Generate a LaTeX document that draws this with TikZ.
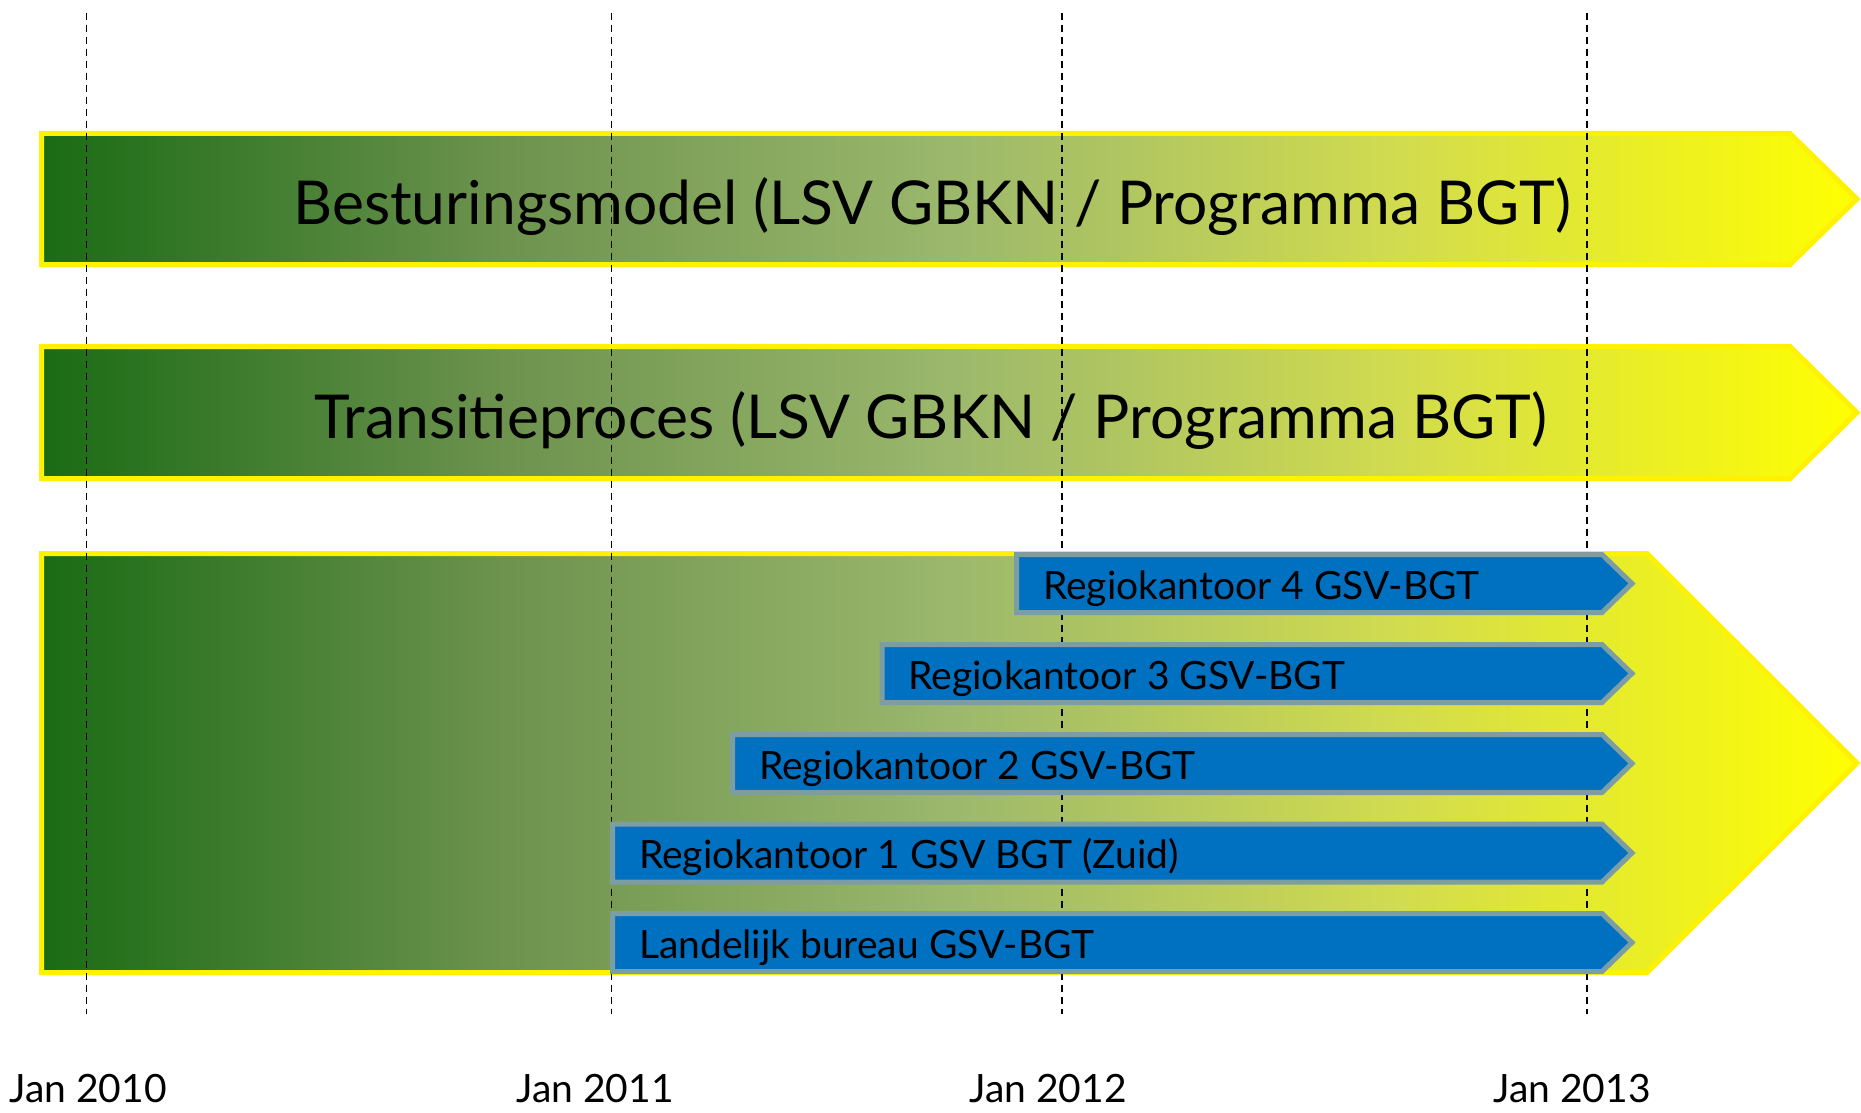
\documentclass[tikz,border=0pt]{standalone}
\usepackage{fontspec}
\setmainfont{Lato}
\usetikzlibrary{positioning}

\definecolor{darkgreen}{RGB}{26,107,20}
\definecolor{mossgreen}{RGB}{108,146,78}
\definecolor{olivegreen}{RGB}{155,184,108}
\definecolor{limegreen}{RGB}{210,220,78}
\definecolor{barblue}{RGB}{0,112,192}
\definecolor{bargrey}{RGB}{125,157,165}

% green to yellow fill of the phases (25bp..75bp is the path)
\pgfdeclarehorizontalshading{greenyellow}{100bp}{color(0bp)=(darkgreen); color(25bp)=(darkgreen);
    color(37.5bp)=(mossgreen); color(50bp)=(olivegreen); color(62.5bp)=(limegreen);
    color(75bp)=(yellow); color(100bp)=(yellow)}

\begin{document}
\begin{tikzpicture}[x=1pt, y=-1pt,
    phase/.style={draw=yellow, line width=5pt, shading=greenyellow},
    task/.style={draw=bargrey, line width=5pt, fill=barblue},
    gridline/.style={line width=1.5pt, dash pattern=on 7pt off 5pt},
    phaselabel/.style={font=\fontsize{60.5}{72}\selectfont, anchor=base},
    tasklabel/.style={font=\fontsize{39}{47}\selectfont, anchor=base west},
    datelabel/.style={font=\fontsize{39}{47}\selectfont, anchor=base}]

    \useasboundingbox (0,0) rectangle (1861,1113);

    % Phases
    \draw[phase] (41.5,133.5) -- (1790,133.5) -- (1857,199) -- (1790,264.5) -- (41.5,264.5) -- cycle;
    \draw[phase] (41.5,346.5) -- (1790,346.5) -- (1857,412.5) -- (1790,478.5) -- (41.5,478.5) -- cycle;
    \draw[phase] (41.5,553.5) -- (1647,553.5) -- (1857,763) -- (1647,972.5) -- (41.5,972.5) -- cycle;

    % Years
    \foreach \x/\lx/\yr in {86.5/88/2010, 611.5/595/2011, 1062/1048/2012, 1587/1572/2013} {
        \coordinate (top\yr) at (\x,12.7);
        \coordinate (bot\yr) at (\x,1014);
        \draw[gridline] (top\yr) -- (bot\yr);
        \node[datelabel] (jan\yr) at (\lx,1102) {Jan \yr};
    }

    % Tasks
    \foreach \lx/\cy/\txt/\nm in {1016.5/583.5/Regiokantoor 4 GSV-BGT/rk4,
                                  882/673.5/Regiokantoor 3 GSV-BGT/rk3,
                                  732.5/763.5/Regiokantoor 2 GSV-BGT/rk2,
                                  612.5/853/Regiokantoor 1 GSV BGT (Zuid)/rk1,
                                  612.5/942.5/Landelijk bureau GSV-BGT/lb} {
        \draw[task] (\lx,\cy-29) -- (1602,\cy-29) -- (1632,\cy) -- (1602,\cy+29) -- (\lx,\cy+29) -- cycle;
        \node[tasklabel] (\nm) at (\lx+23,\cy+15.5) {\txt};
    }

    % Phase labels
    \node[phaselabel] (besturing) at (932,224.5) {Besturingsmodel (LSV GBKN / Programma BGT)};
    \node[phaselabel] (transitie) at (931,438) {Transitieproces (LSV GBKN / Programma BGT)};

\end{tikzpicture}
\end{document}
